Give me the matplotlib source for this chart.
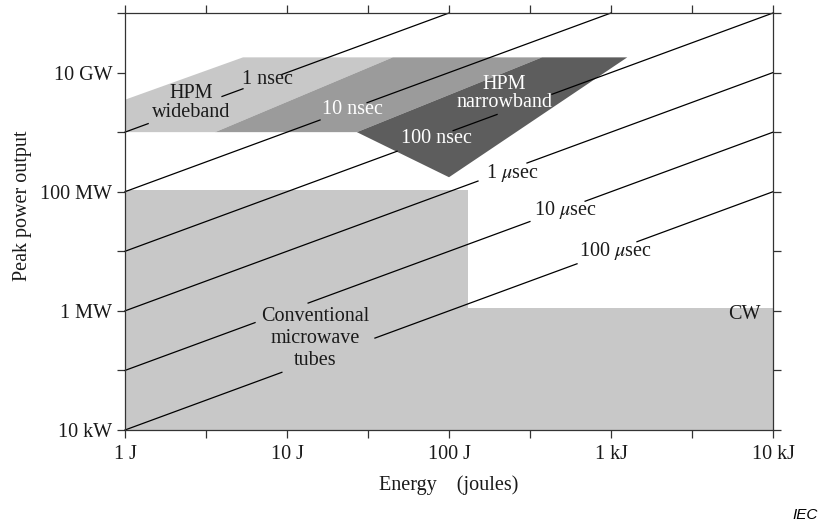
import numpy as np
import matplotlib
matplotlib.use("Agg")
import matplotlib.pyplot as plt
from matplotlib.patches import Polygon

OUT = "out.png"
plt.rcParams["font.family"] = ["Liberation Serif", "DejaVu Serif"]
plt.rcParams["mathtext.fontset"] = "stix"

INK = "#1a1a1a"
LIGHT = "#c8c8c8"
MEDIUM = "#9b9b9b"
DARK = "#5d5d5d"

# pulse durations (s) for the constant-width lines, P = E / tau
PULSE_TAU = [1e-9, 1e-8, 1e-7, 1e-6, 1e-5, 1e-4]
PULSE_LABELS = ["1 nsec", "10 nsec", "100 nsec",
                "1 $\\mu$sec", "10 $\\mu$sec", "100 $\\mu$sec"]

# source regions, (energy J, peak power W) vertices
WIDEBAND_E = [1, 1, 5.35, 45, 3.6]
WIDEBAND_P = [1e9, 3.5e9, 1.8e10, 1.8e10, 1e9]
MID_E = [3.6, 45, 375, 27]
MID_P = [1e9, 1.8e10, 1.8e10, 1e9]
NARROW_E = [27, 100, 1260, 375]
NARROW_P = [1e9, 1.75e8, 1.8e10, 1.8e10]
TUBES_E = [1, 131]
TUBES_P = [1e4, 1.05e8]
CW_E = [131, 1e4]
CW_P = [1e4, 1.1e6]

XTICKS = [1, 10, 100, 1e3, 1e4]
XTICK_LABELS = ["1 J", "10 J", "100 J", "1 kJ", "10 kJ"]
YTICKS = [1e4, 1e6, 1e8, 1e10]
YTICK_LABELS = ["10 kW", "1 MW", "100 MW", "10 GW"]

# energy intervals where each pulse line is broken for a label
LINE_GAPS = [
    [(1.39, 3.97), (5.35, 9.3)],
    [(16.0, 31.2)],
    [(47.8, 106), (198, 432)],
    [(151, 303)],
    [(6.35, 13.5), (316, 692)],
    [(9.3, 34.9), (617, 1446)],
]


def pulse_segments(tau, gaps, emin=1.0, emax=1e4, pmax=1e11):
    end = min(emax, pmax * tau)
    edges = [emin]
    for a, b in gaps:
        edges += [a, b]
    edges.append(end)
    return [(edges[i], edges[i + 1]) for i in range(0, len(edges), 2)]


fig = plt.figure(figsize=(8.26, 5.29), dpi=100, facecolor="white")
ax = fig.add_axes([125 / 826, 1 - 430 / 529, 648 / 826, 417 / 529])
ax.set_xscale("log")
ax.set_yscale("log")
ax.set_xlim(1, 1e4)
ax.set_ylim(1e4, 1e11)

ax.fill_between(TUBES_E, TUBES_P[0], TUBES_P[1], color=LIGHT, lw=0, zorder=1)
ax.fill_between(CW_E, CW_P[0], CW_P[1], color=LIGHT, lw=0, zorder=1)
for xs, ys, c in ((WIDEBAND_E, WIDEBAND_P, LIGHT), (MID_E, MID_P, MEDIUM),
                  (NARROW_E, NARROW_P, DARK)):
    ax.add_patch(Polygon(np.column_stack([xs, ys]), closed=True,
                         facecolor=c, edgecolor="none", zorder=2))

for tau, gaps in zip(PULSE_TAU, LINE_GAPS):
    for e0, e1 in pulse_segments(tau, gaps):
        ax.plot([e0, e1], [e0 / tau, e1 / tau], color="black", lw=0.9,
                zorder=3, clip_on=False)

fs = 14.5
ax.text(2.55, 3.1e9, "HPM\nwideband", ha="center", va="center", fontsize=fs,
        color=INK, linespacing=1.0, zorder=4)
ax.text(219, 6.3e9, "HPM", ha="center", va="center", fontsize=fs,
        color="white", zorder=4)
ax.text(219, 3.1e9, "narrowband", ha="center", va="center", fontsize=fs,
        color="white", zorder=4)
ax.text(14.9, 3.4e5, "Conventional\nmicrowave\ntubes", ha="center",
        va="center", fontsize=fs, color=INK, linespacing=1.2, zorder=4)
ax.text(6620, 8.6e5, "CW", ha="center", va="center", fontsize=fs,
        color=INK, zorder=4)

label_pos = [(7.6, 7.6e9), (25.2, 2.4e9), (84, 7.7e8),
             (245, 2.1e8), (520, 5.0e7), (1059, 1.03e7)]
label_col = [INK, "white", "white", INK, INK, INK]
for (e, p), txt, c in zip(label_pos, PULSE_LABELS, label_col):
    ax.text(e, p, txt, ha="center", va="center", fontsize=fs, color=c, zorder=4)

ax.set_xticks(XTICKS)
ax.set_xticklabels(XTICK_LABELS, fontsize=fs, color=INK)
ax.set_yticks(YTICKS)
ax.set_yticklabels(YTICK_LABELS, fontsize=fs, color=INK)
ax.set_xticks(np.logspace(0, 4, 9), minor=True)
ax.set_yticks(np.logspace(4, 11, 8), minor=True)
ax.xaxis.set_minor_formatter(plt.NullFormatter())
ax.yaxis.set_minor_formatter(plt.NullFormatter())
ax.tick_params(which="both", direction="out", length=6, width=0.9,
               color="#333333", top=True, right=True)
ax.tick_params(axis="x", pad=5)
ax.tick_params(axis="y", pad=3)
for s in ax.spines.values():
    s.set_linewidth(0.9)
    s.set_color("#333333")
    s.set_zorder(5)

ax.set_xlabel("Energy    (joules)", fontsize=fs, color=INK, labelpad=8)
fig.text(23 / 826, 1 - 206 / 529, "Peak power output", rotation=90,
         ha="center", va="center", fontsize=fs, color=INK)
fig.text(805 / 826, 1 - 515 / 529, "IEC", ha="center", va="center",
         fontsize=11, style="italic", family="Liberation Sans", color="black")

fig.savefig(OUT, dpi=100, facecolor="white")
